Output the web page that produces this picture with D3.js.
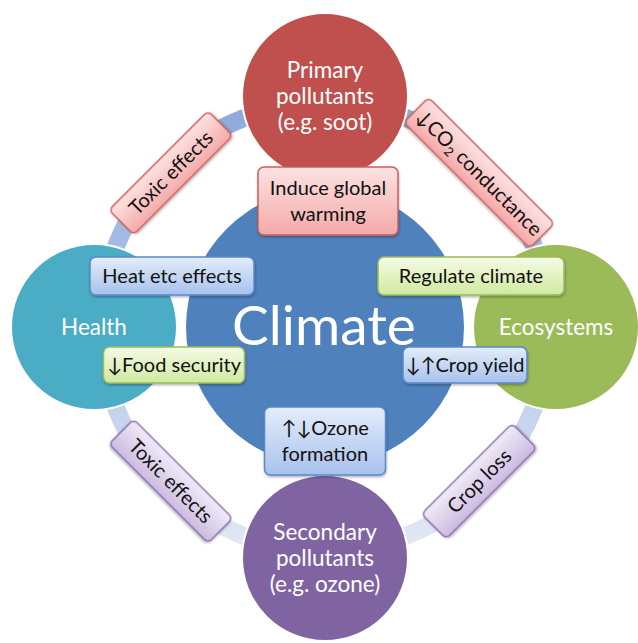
<!DOCTYPE html>
<html>
<head>
<meta charset="utf-8">
<script src="https://cdn.jsdelivr.net/npm/d3@7"></script>
<style>
body { margin: 0; background: #fff; }
svg { display: block; font-family: Lato, "Open Sans", sans-serif; }
</style>
</head>
<body>
<svg id="chart" width="638" height="643"></svg>
<script>
//Hub and the four nodes round it, clockwise from the top
const HUB_LABEL = "Climate";
const NODE_LABELS = [
	["Primary", "pollutants", "(e.g. soot)"],
	["Ecosystems"],
	["Secondary", "pollutants", "(e.g. ozone)"],
	["Health"]
];

//Labels on the ring between the nodes: top-right, bottom-right, bottom-left, top-left
const LINK_LABELS = ["↓CO₂ conductance", "Crop loss", "Toxic effects", "Toxic effects"];

//Boxes laid over the hub
const HUB_BOX_LABELS = [
	["Induce global", "warming"],
	["Regulate climate"],
	["↓↑Crop yield"],
	["↑↓Ozone", "formation"],
	["↓Food security"],
	["Heat etc effects"]
];

//Styles
const NODE_COLORS = ["#c0504d", "#9bbb59", "#8064a2", "#4bacc6"];
const HUB_COLOR = "#4f81bd";
const LINK_THEMES = ["red", "purple", "purple", "red"];
const HUB_BOX_THEMES = ["red", "green", "blue", "blue", "green", "blue"];
const THEMES = {
	red:    { top: "#fde3e3", bottom: "#f4a9a8", stroke: "#c9605d" },
	blue:   { top: "#e4edfb", bottom: "#a7c1ec", stroke: "#5a89c9" },
	green:  { top: "#f5fbe6", bottom: "#d0e9a0", stroke: "#9bbb59" },
	purple: { top: "#f1ebf7", bottom: "#cbbbe0", stroke: "#8a6fb0" }
};

//Layout
const CX = 325, CY = 327;
const NODE_DIST = 231, NODE_R = 83, HUB_R = 139;
const RING_R = 224, RING_W = 18;
const LINK_DIST = 218, LINK_H = 35;
const LINK_LEN = [178, 128, 140, 140];
const LINE_H = 26;
const NODE_FONT = 22.5, BOX_FONT = 20;
//hub boxes: centre offset from hub centre, width, height
const HUB_BOX_LAYOUT = [
	{dx: 3, dy: -126, w: 140, h: 68},
	{dx: 146, dy: -51, w: 186, h: 38},
	{dx: 140, dy: 38, w: 124, h: 36},
	{dx: 0, dy: 114, w: 121, h: 68},
	{dx: -151, dy: 38, w: 141, h: 36},
	{dx: -153, dy: -51, w: 164, h: 38}
];

//////////////////////////////////////////////////

var svg = d3.select("#chart");
var defs = svg.append("defs");

//box gradients
Object.keys(THEMES).forEach(function(k) {
	var g = defs.append("linearGradient")
		.attr("id", "grad-" + k)
		.attr("x1", 0).attr("y1", 0).attr("x2", 0).attr("y2", 1);
	g.append("stop").attr("offset", "0%").attr("stop-color", THEMES[k].top);
	g.append("stop").attr("offset", "100%").attr("stop-color", THEMES[k].bottom);
});

//ring fades from top to bottom
var ringGrad = defs.append("linearGradient")
	.attr("id", "ring-grad")
	.attr("gradientUnits", "userSpaceOnUse")
	.attr("x1", 0).attr("y1", CY - RING_R).attr("x2", 0).attr("y2", CY + RING_R);
ringGrad.append("stop").attr("offset", "0%").attr("stop-color", "#8eaadb");
ringGrad.append("stop").attr("offset", "50%").attr("stop-color", "#b3c6e8");
ringGrad.append("stop").attr("offset", "100%").attr("stop-color", "#e2e9f5");

var shadow = defs.append("filter").attr("id", "shadow")
	.attr("x", "-20%").attr("y", "-20%").attr("width", "140%").attr("height", "160%");
shadow.append("feDropShadow")
	.attr("dx", 0.5).attr("dy", 1.5).attr("stdDeviation", 1.2)
	.attr("flood-color", "#000").attr("flood-opacity", 0.3);

//angle of each node, clockwise from the top
var angle = d3.scaleLinear().domain([0, 4]).range([-Math.PI / 2, 1.5 * Math.PI]);

function nodePos(i) {
	var a = angle(i);
	return [CX + NODE_DIST * Math.cos(a), CY + NODE_DIST * Math.sin(a)];
}

//ring
svg.append("circle")
	.attr("cx", CX).attr("cy", CY).attr("r", RING_R)
	.attr("fill", "none")
	.attr("stroke", "url(#ring-grad)")
	.attr("stroke-width", RING_W);

//nodes
var nodes = svg.selectAll("g.node")
	.data(NODE_LABELS)
	.enter().append("g")
	.attr("class", "node")
	.attr("transform", function(d, i) { return "translate(" + nodePos(i) + ")"; });

nodes.append("circle")
	.attr("r", NODE_R)
	.attr("fill", function(d, i) { return NODE_COLORS[i]; })
	.attr("stroke", "#fff")
	.attr("stroke-width", 2);

nodes.each(function(lines) {
	var t = d3.select(this).append("text")
		.attr("text-anchor", "middle")
		.attr("fill", "#fff")
		.attr("font-size", NODE_FONT);
	lines.forEach(function(s, j) {
		t.append("tspan")
			.attr("x", 0)
			.attr("y", (j - (lines.length - 1) / 2) * LINE_H + 8)
			.text(s);
	});
});

//hub
svg.append("circle")
	.attr("cx", CX).attr("cy", CY).attr("r", HUB_R)
	.attr("fill", HUB_COLOR);

svg.append("text")
	.attr("x", CX - 1).attr("y", CY + 18)
	.attr("text-anchor", "middle")
	.attr("fill", "#fff")
	.attr("font-size", 55)
	.text(HUB_LABEL);

//writes a label, with a subscript where a ₂ appears
function writeLabel(t, s) {
	var parts = s.split("₂");
	if (parts.length == 1) { t.text(s); return; }
	t.append("tspan").text(parts[0]);
	t.append("tspan").attr("font-size", "0.65em").attr("dy", 4).text("2");
	t.append("tspan").attr("dy", -4).text(parts[1]);
}

//labels sitting on the ring
var links = svg.selectAll("g.link")
	.data(LINK_LABELS)
	.enter().append("g")
	.attr("class", "link")
	.attr("transform", function(d, i) {
		var a = angle(i) + Math.PI / 4;
		var x = CX + LINK_DIST * Math.cos(a), y = CY + LINK_DIST * Math.sin(a);
		var rot = (i % 2 == 0) ? 45 : -45;
		return "translate(" + x + "," + y + ") rotate(" + rot + ")";
	});

links.append("rect")
	.attr("x", function(d, i) { return -LINK_LEN[i] / 2; })
	.attr("y", -LINK_H / 2)
	.attr("width", function(d, i) { return LINK_LEN[i]; })
	.attr("height", LINK_H)
	.attr("rx", 5)
	.attr("fill", function(d, i) { return "url(#grad-" + LINK_THEMES[i] + ")"; })
	.attr("stroke", function(d, i) { return THEMES[LINK_THEMES[i]].stroke; })
	.attr("stroke-width", 1.5)
	.attr("filter", "url(#shadow)");

links.append("text")
	.attr("text-anchor", "middle")
	.attr("y", 7)
	.attr("font-size", BOX_FONT)
	.attr("fill", "#111")
	.each(function(d) { writeLabel(d3.select(this), d); });

//boxes over the hub
var boxes = svg.selectAll("g.box")
	.data(HUB_BOX_LABELS)
	.enter().append("g")
	.attr("class", "box")
	.attr("transform", function(d, i) {
		var L = HUB_BOX_LAYOUT[i];
		return "translate(" + (CX + L.dx) + "," + (CY + L.dy) + ")";
	});

boxes.append("rect")
	.attr("x", function(d, i) { return -HUB_BOX_LAYOUT[i].w / 2; })
	.attr("y", function(d, i) { return -HUB_BOX_LAYOUT[i].h / 2; })
	.attr("width", function(d, i) { return HUB_BOX_LAYOUT[i].w; })
	.attr("height", function(d, i) { return HUB_BOX_LAYOUT[i].h; })
	.attr("rx", 6)
	.attr("fill", function(d, i) { return "url(#grad-" + HUB_BOX_THEMES[i] + ")"; })
	.attr("stroke", function(d, i) { return THEMES[HUB_BOX_THEMES[i]].stroke; })
	.attr("stroke-width", 1.5)
	.attr("filter", "url(#shadow)");

boxes.each(function(lines) {
	var t = d3.select(this).append("text")
		.attr("text-anchor", "middle")
		.attr("font-size", BOX_FONT)
		.attr("fill", "#111");
	lines.forEach(function(s, j) {
		t.append("tspan")
			.attr("x", 0)
			.attr("y", (j - (lines.length - 1) / 2) * 26 + 7)
			.text(s);
	});
});
</script>
</body>
</html>
